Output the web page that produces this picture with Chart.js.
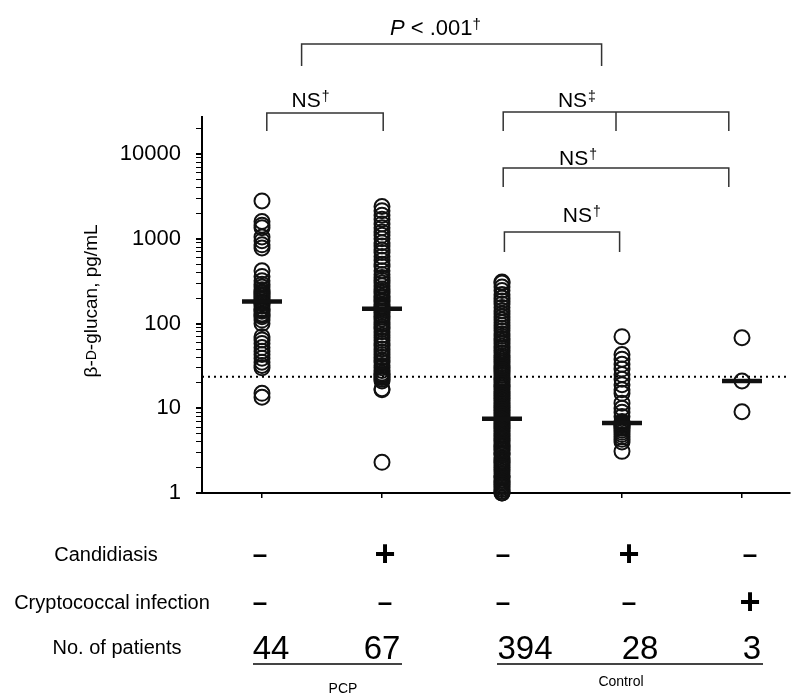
<!DOCTYPE html>
<html><head><meta charset="utf-8">
<script src="https://cdn.jsdelivr.net/npm/chart.js@4.4.1/dist/chart.umd.min.js"></script>
<style>html,body{margin:0;padding:0;background:#fff;}#wrap{width:791px;height:694px;position:relative;}</style>
</head><body><div id="wrap"><canvas id="c"></canvas></div>
<script>
// ---------- data ----------
const categories = ['PCP / Candidiasis -', 'PCP / Candidiasis +', 'Control', 'Control / Candidiasis +', 'Control / Cryptococcal +'];
const candidiasisRow = ['-', '+', '-', '+', '-'];
const cryptococcalRow = ['-', '-', '-', '-', '+'];
const patientCounts = ['44', '67', '394', '28', '3'];
const groupNames = ['PCP', 'Control'];
const yTickLabels = [1, 10, 100, 1000, 10000];
const cutoffValue = 23.5;
const medians = [182, 150, 7.5, 6.7, 21];

const pcpNoCandida = [2800, 1600, 1450, 1350, 1050, 950, 850, 780, 420, 360, 320, 290, 270, 250, 235, 230,
  220, 210, 200, 190, 180, 175, 170, 160, 150, 145, 140, 130, 125, 120, 110, 100, 70, 64, 58, 52, 47, 43,
  39, 35, 32, 30, 15, 13.5];
const pcpCandida = [2400, 2150, 1900, 1700, 1500, 1350, 1200, 1100, 1000, 900, 820, 740, 690, 620, 560, 500,
  470, 420, 380, 350, 325, 300, 280, 255, 240, 228, 210, 200, 188, 180, 168, 160, 155, 150, 142, 135, 126,
  120, 113, 104, 98, 91, 86, 80, 73, 68, 63, 58, 55, 50, 46, 43, 40, 37, 35, 32, 30, 28, 26, 25, 24, 23, 22,
  21, 17, 16.5, 2.3];
const controlNone = [1.0, 1.0, 1.05, 1.1, 1.15, 1.2, 1.25, 1.3, 1.35, 1.4, 1.5, 1.55, 1.6, 1.7, 1.8, 1.9,
  2.0, 2.1, 2.2, 2.3, 2.4, 2.5, 2.6, 2.8, 2.9, 3.0, 3.2, 3.3, 3.5, 3.6, 3.8, 4.0, 4.2, 4.4, 4.6, 4.8, 5.0,
  5.3, 5.5, 5.8, 6.0, 6.3, 6.6, 6.9, 7.2, 7.5, 7.8, 8.2, 8.6, 9.0, 9.4, 9.8, 10.3, 10.8, 11.3, 11.8, 12.4,
  13, 13.6, 14.2, 15, 15.7, 16.5, 17.3, 18.2, 19, 20, 21, 22, 23, 24.5, 26, 27.5, 29, 30.5, 32, 34, 36, 38,
  40, 42, 45, 48, 51, 54, 58, 62, 66, 71, 76, 82, 88, 95, 102, 110, 120, 130, 142, 155, 170, 185, 200, 220,
  245, 270, 300, 310];
const controlCandida = [70, 43, 38, 33, 29, 25, 22, 19, 16.5, 15, 11.5, 10, 9, 8, 7, 6.8, 6.6, 6.4, 6.2, 6,
  5.8, 5.5, 5.2, 4.9, 4.6, 4.3, 4.0, 3.1];
const controlCrypto = [68, 21, 9.1];

const groupValues = [pcpNoCandida, pcpCandida, controlNone, controlCandida, controlCrypto];

// ---------- layout (pixels / category units) ----------
const AREA = {left: 202, top: 117, right: 790, bottom: 493};
const Y_AXIS_W = 110;
const X_MIN = -0.5, X_MAX = 4.4, Y_MIN = 1, Y_MAX = 27400;

const pointDatasets = groupValues.map((vals, i) => ({
  type: 'scatter',
  label: categories[i],
  data: vals.map(v => ({x: i, y: v})),
  pointRadius: 7.5,
  pointBorderWidth: 2,
  pointBackgroundColor: 'rgba(0,0,0,0)',
  pointBorderColor: '#111',
  clip: false,
  order: 2
}));

const medianDataset = {
  type: 'scatter',
  label: 'Median',
  data: medians.map((v, i) => ({x: i, y: v})),
  pointStyle: 'line',
  pointRadius: 20,
  pointBorderWidth: 4.5,
  pointBorderColor: '#111',
  clip: false,
  order: 1
};

const cutoffDataset = {
  type: 'line',
  label: 'Cutoff',
  data: [{x: X_MIN, y: cutoffValue}, {x: X_MAX, y: cutoffValue}],
  borderColor: '#000',
  borderWidth: 2,
  borderDash: [2, 4],
  pointRadius: 0,
  fill: false,
  order: 3
};

const brackets = [
  {x1: 0.33, x2: 2.83, mids: [], top: 44, bottom: 66},
  {x1: 0.04, x2: 1.01, mids: [], top: 113, bottom: 131},
  {x1: 2.01, x2: 3.89, mids: [2.95], top: 112, bottom: 131},
  {x1: 2.01, x2: 3.89, mids: [], top: 168, bottom: 187},
  {x1: 2.02, x2: 2.98, mids: [], top: 232, bottom: 252}
];
const nsLabels = [
  {x: 0.40, y: 107, main: 'NS', sup: '†'},
  {x: 2.62, y: 107, main: 'NS', sup: '‡'},
  {x: 2.63, y: 165, main: 'NS', sup: '†'},
  {x: 2.66, y: 222, main: 'NS', sup: '†'}
];
const signShift = [-2, 3, 1, 7, 8];
const countShift = [9, 0, 23, 18, 10];

const SANS = '"Liberation Sans", Arial, Helvetica, sans-serif';

const annot = {
  id: 'annot',
  afterDraw(chart) {
    const ctx = chart.ctx;
    const xs = chart.scales.x;
    const px = v => xs.getPixelForValue(v);
    ctx.save();
    // brackets
    ctx.strokeStyle = '#333';
    ctx.lineWidth = 1.5;
    brackets.forEach(b => {
      const a = px(b.x1), c = px(b.x2);
      ctx.beginPath();
      ctx.moveTo(a, b.bottom); ctx.lineTo(a, b.top); ctx.lineTo(c, b.top); ctx.lineTo(c, b.bottom);
      b.mids.forEach(m => { const mx = px(m); ctx.moveTo(mx, b.top); ctx.lineTo(mx, b.bottom); });
      ctx.stroke();
    });
    ctx.fillStyle = '#000';
    ctx.textBaseline = 'alphabetic';
    // P < .001†
    {
      const parts = [
        {t: 'P', f: 'italic 22px ' + SANS, dy: 0},
        {t: ' < .001', f: '22px ' + SANS, dy: 0},
        {t: '†', f: '15px ' + SANS, dy: -6}
      ];
      let w = 0;
      parts.forEach(p => { ctx.font = p.f; p.w = ctx.measureText(p.t).width; w += p.w; });
      let x = px(1.445) - w / 2;
      parts.forEach(p => { ctx.font = p.f; ctx.textAlign = 'left'; ctx.fillText(p.t, x, 35 + p.dy); x += p.w; });
    }
    nsLabels.forEach(l => {
      ctx.font = '21px ' + SANS;
      const w1 = ctx.measureText(l.main).width;
      ctx.font = '14px ' + SANS;
      const w2 = ctx.measureText(l.sup).width;
      let x = px(l.x) - (w1 + w2) / 2;
      ctx.textAlign = 'left';
      ctx.font = '21px ' + SANS;
      ctx.fillText(l.main, x, l.y);
      ctx.font = '14px ' + SANS;
      ctx.fillText(l.sup, x + w1 + 1, l.y - 6);
    });
    // y axis title
    {
      ctx.translate(92, 301);
      ctx.rotate(-Math.PI / 2);
      const parts = [
        {t: 'β-', f: '19px ' + SANS},
        {t: 'D', f: '14px ' + SANS},
        {t: '-glucan, pg/mL', f: '19px ' + SANS}
      ];
      let w = 0;
      parts.forEach(p => { ctx.font = p.f; p.w = ctx.measureText(p.t).width; w += p.w; });
      let x = -w / 2;
      ctx.textBaseline = 'middle';
      parts.forEach(p => { ctx.font = p.f; ctx.textAlign = 'left'; ctx.fillText(p.t, x, 0); x += p.w; });
      ctx.setTransform(1, 0, 0, 1, 0, 0);
    }
    // table rows
    ctx.textBaseline = 'middle';
    ctx.textAlign = 'center';
    ctx.font = '20px ' + SANS;
    ctx.fillText('Candidiasis', 106, 555);
    ctx.fillText('Cryptococcal infection', 112, 603);
    ctx.fillText('No. of patients', 117, 648);
    const drawSign = (s, x, y) => {
      if (s === '+') { ctx.font = 'bold 36px ' + SANS; ctx.fillText('+', x, y + 1); }
      else { ctx.font = 'bold 26px ' + SANS; ctx.fillText('–', x, y + 1); }
    };
    for (let i = 0; i < categories.length; i++) {
      const x = px(i);
      drawSign(candidiasisRow[i], x + signShift[i], 555);
      drawSign(cryptococcalRow[i], x + signShift[i], 603);
      ctx.font = '33px ' + SANS;
      ctx.fillText(patientCounts[i], x + countShift[i], 650);
    }
    // group underlines
    ctx.strokeStyle = '#444';
    ctx.lineWidth = 2;
    ctx.beginPath();
    ctx.moveTo(px(0) - 9, 664); ctx.lineTo(px(1) + 20, 664);
    ctx.moveTo(px(2) - 5, 664); ctx.lineTo(px(4) + 21, 664);
    ctx.stroke();
    ctx.font = '14px ' + SANS;
    ctx.fillText(groupNames[0], (px(0) + px(1)) / 2 + 21, 689);
    ctx.fillText(groupNames[1], px(3) - 1, 682);
    ctx.restore();
  }
};

const yTicks = [];
yTickLabels.forEach(p => { for (let d = 1; d <= 9; d++) { const v = d * p; if (v <= Y_MAX) yTicks.push(v); } });

new Chart(document.getElementById('c'), {
  type: 'scatter',
  data: {datasets: [...pointDatasets, medianDataset, cutoffDataset]},
  options: {
    responsive: true,
    maintainAspectRatio: false,
    animation: false,
    events: [],
    layout: {
      autoPadding: false,
      padding: {left: AREA.left - Y_AXIS_W, top: AREA.top, right: 791 - AREA.right, bottom: 694 - AREA.bottom - 10}
    },
    plugins: {legend: {display: false}, tooltip: {enabled: false}},
    scales: {
      x: {
        type: 'linear', min: X_MIN, max: X_MAX,
        afterBuildTicks: s => { s.ticks = categories.map((c, i) => ({value: i})); },
        afterFit: s => { s.height = 10; },
        ticks: {display: false},
        grid: {drawOnChartArea: false, drawTicks: true, tickLength: 5, color: '#000', lineWidth: 1.5},
        border: {display: true, color: '#000', width: 2}
      },
      y: {
        type: 'logarithmic', min: Y_MIN, max: Y_MAX,
        afterBuildTicks: s => { s.ticks = yTicks.map(v => ({value: v})); },
        afterFit: s => { s.width = Y_AXIS_W; },
        ticks: {
          autoSkip: false, padding: 15, color: '#000',
          font: {family: SANS, size: 22},
          callback: v => yTickLabels.includes(v) ? String(v) : ''
        },
        grid: {
          drawOnChartArea: false, drawTicks: true, tickLength: 6, color: '#000',
          lineWidth: c => (c.tick && yTickLabels.includes(c.tick.value)) ? 2 : 1
        },
        border: {display: true, color: '#000', width: 2}
      }
    }
  },
  plugins: [annot]
});
</script></body></html>
